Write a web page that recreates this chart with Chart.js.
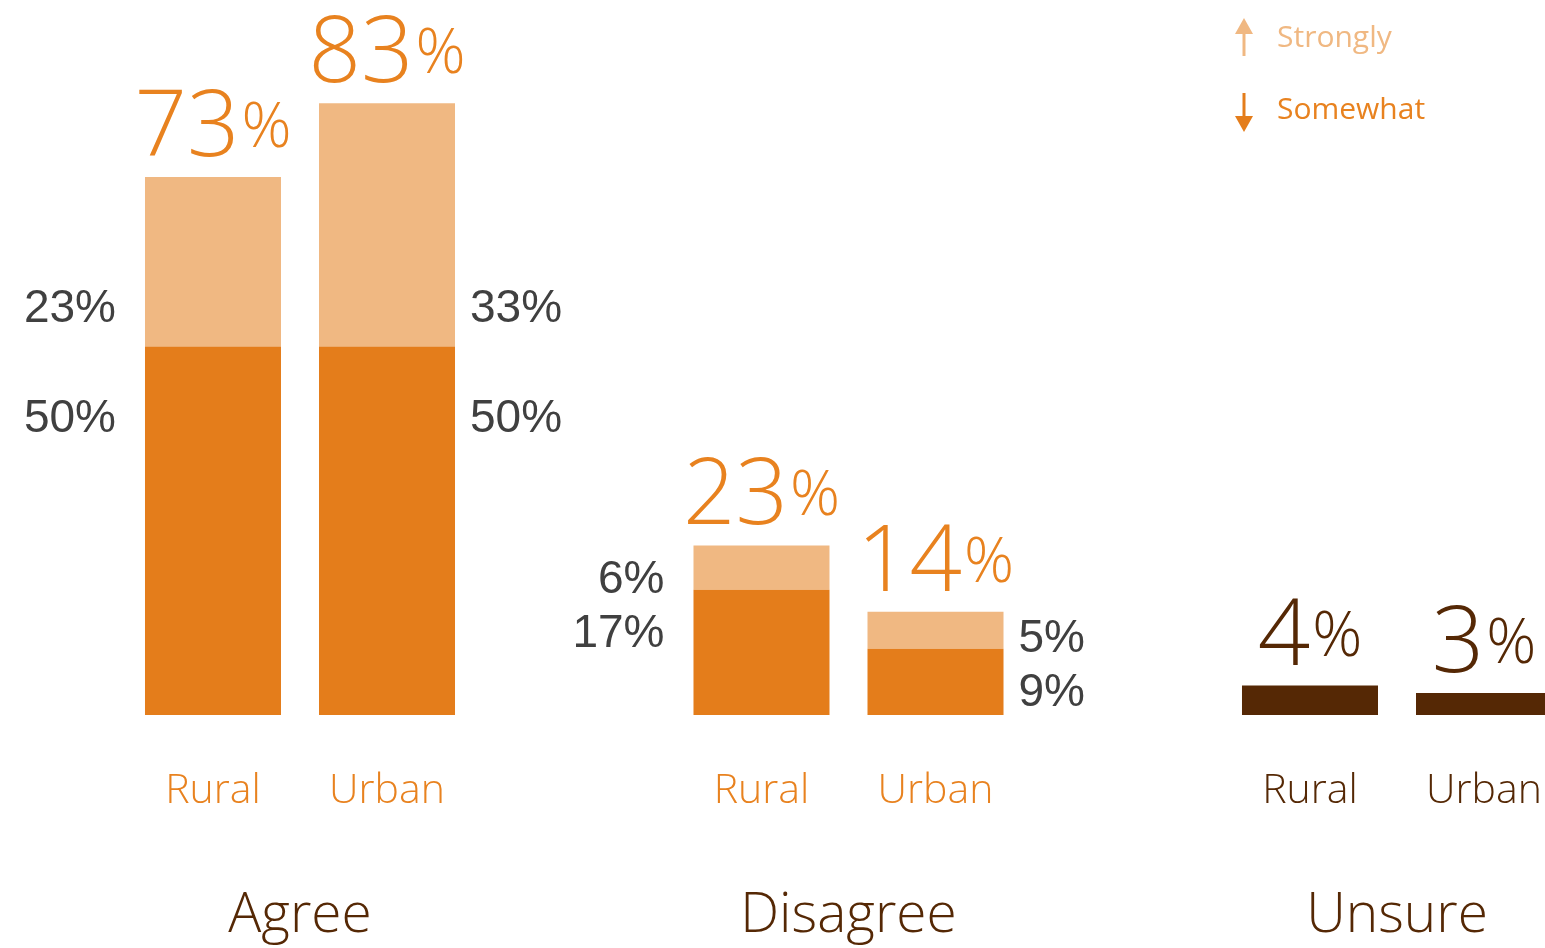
<!DOCTYPE html>
<html>
<head>
<meta charset="utf-8">
<script src="https://cdn.jsdelivr.net/npm/chart.js@4.4.0/dist/chart.umd.min.js"></script>
<style>
  html, body { margin: 0; padding: 0; background: #fff; }
  #wrap { width: 1545px; height: 948px; }
</style>
</head>
<body>
<div id="wrap"><canvas id="surveyChart" width="1545" height="948"></canvas></div>
<script>
const groups = ['Agree', 'Disagree', 'Unsure'];
const areas = ['Rural', 'Urban'];

const ruralSomewhat = [50, 17, null];
const ruralStrongly = [23, 6, null];
const ruralUnsure = [null, null, 4];
const urbanSomewhat = [50, 9, null];
const urbanStrongly = [33, 5, null];
const urbanUnsure = [null, null, 3];

const legendLabels = ['Strongly', 'Somewhat'];

const ORANGE = '#e47d1b';
const LIGHT = '#f0b882';
const BROWN = '#552805';
const GREY = '#404040';
const TEXT_ORANGE = '#e8821f';
const HUMANIST = '"Open Sans", "Noto Sans", sans-serif';
const GROTESK = '"Liberation Sans", Arial, sans-serif';

const datasets = [
  { label: 'Rural Somewhat', data: ruralSomewhat, stack: 'Rural', backgroundColor: ORANGE, part: 'somewhat' },
  { label: 'Rural Strongly', data: ruralStrongly, stack: 'Rural', backgroundColor: LIGHT, part: 'strongly' },
  { label: 'Rural Unsure', data: ruralUnsure, stack: 'Rural', backgroundColor: BROWN, part: 'unsure' },
  { label: 'Urban Somewhat', data: urbanSomewhat, stack: 'Urban', backgroundColor: ORANGE, part: 'somewhat' },
  { label: 'Urban Strongly', data: urbanStrongly, stack: 'Urban', backgroundColor: LIGHT, part: 'strongly' },
  { label: 'Urban Unsure', data: urbanUnsure, stack: 'Urban', backgroundColor: BROWN, part: 'unsure' },
];

// big "73%" style total: large number, smaller raised percent sign
function drawTotal(ctx, value, cx, baseline, color) {
  const num = String(value);
  const numFont = '300 92px ' + HUMANIST;
  const pctFont = '300 62px ' + HUMANIST;
  ctx.save();
  ctx.fillStyle = color;
  ctx.textBaseline = 'alphabetic';
  ctx.textAlign = 'left';
  ctx.font = numFont;
  const wNum = ctx.measureText(num).width;
  ctx.font = pctFont;
  const wPct = ctx.measureText('%').width;
  const start = cx - (wNum + 2 + wPct) / 2;
  ctx.font = numFont;
  ctx.fillText(num, start, baseline);
  ctx.font = pctFont;
  ctx.fillText('%', start + wNum + 2, baseline - 9);
  ctx.restore();
}

function drawArrow(ctx, x, from, to, color) {
  const dir = Math.sign(to - from);
  ctx.save();
  ctx.strokeStyle = color;
  ctx.fillStyle = color;
  ctx.lineWidth = 3;
  ctx.beginPath();
  ctx.moveTo(x, from);
  ctx.lineTo(x, to - dir * 10);
  ctx.stroke();
  ctx.beginPath();
  ctx.moveTo(x, to);
  ctx.lineTo(x - 9, to - dir * 16);
  ctx.lineTo(x + 9, to - dir * 16);
  ctx.closePath();
  ctx.fill();
  ctx.restore();
}

const annotations = {
  id: 'annotations',
  afterDatasetsDraw(chart) {
    const ctx = chart.ctx;
    const xScale = chart.scales.x;
    const bottom = chart.chartArea.bottom;

    areas.forEach((area, a) => {
      const sets = chart.data.datasets
        .map((ds, d) => ({ ds, meta: chart.getDatasetMeta(d) }))
        .filter(o => o.ds.stack === area);

      groups.forEach((group, i) => {
        const parts = sets.filter(o => o.ds.data[i] != null);
        const topBar = parts[parts.length - 1].meta.data[i];
        const total = parts.reduce((s, o) => s + o.ds.data[i], 0);
        const isUnsure = parts.some(o => o.ds.part === 'unsure');

        drawTotal(ctx, total, topBar.x, topBar.y - 21, isUnsure ? BROWN : TEXT_ORANGE);

        // segment values beside the stack: rural on the left, urban on the right
        const some = parts.find(o => o.ds.part === 'somewhat');
        const strong = parts.find(o => o.ds.part === 'strongly');
        if (some && strong) {
          const bar = some.meta.data[i];
          const split = bar.y;
          const strongH = split - strong.meta.data[i].y;
          const half = strongH > 100 ? 55 : 27;
          const mid = split + 18;
          const lx = a === 0 ? bar.x - bar.width / 2 - 29 : bar.x + bar.width / 2 + 15;
          ctx.save();
          ctx.fillStyle = GREY;
          ctx.font = '46px ' + GROTESK;
          ctx.textAlign = a === 0 ? 'right' : 'left';
          ctx.textBaseline = 'middle';
          ctx.fillText(strong.ds.data[i] + '%', lx, mid - half);
          ctx.fillText(some.ds.data[i] + '%', lx, mid + half);
          ctx.restore();
        }

        ctx.save();
        ctx.fillStyle = isUnsure ? BROWN : TEXT_ORANGE;
        ctx.font = '300 41px ' + HUMANIST;
        ctx.textAlign = 'center';
        ctx.textBaseline = 'alphabetic';
        ctx.fillText(area, topBar.x, bottom + 88);
        ctx.restore();
      });
    });

    ctx.save();
    ctx.fillStyle = BROWN;
    ctx.font = '300 55px ' + HUMANIST;
    ctx.textAlign = 'center';
    ctx.textBaseline = 'alphabetic';
    groups.forEach((group, i) => {
      ctx.fillText(group, xScale.getPixelForValue(i), bottom + 217);
    });
    ctx.restore();

    // legend, top right
    drawArrow(ctx, 1244, 56, 18, LIGHT);
    drawArrow(ctx, 1244, 93, 132, ORANGE);
    ctx.save();
    ctx.font = '30px ' + HUMANIST;
    ctx.textAlign = 'left';
    ctx.textBaseline = 'alphabetic';
    ctx.fillStyle = LIGHT;
    ctx.fillText(legendLabels[0], 1277, 47);
    ctx.fillStyle = TEXT_ORANGE;
    ctx.fillText(legendLabels[1], 1277, 119);
    ctx.restore();
  }
};

new Chart(document.getElementById('surveyChart'), {
  type: 'bar',
  data: { labels: groups, datasets: datasets },
  options: {
    responsive: false,
    animation: false,
    layout: { padding: { left: 300, right: 148, top: 0, bottom: 233 } },
    datasets: {
      bar: {
        categoryPercentage: 0.6345,
        barPercentage: 0.7816,
        borderWidth: 0,
        clip: false,
      },
    },
    scales: {
      x: { display: false, stacked: true, offset: false },
      y: { display: false, stacked: true, min: 0, max: 97 },
    },
    plugins: {
      legend: { display: false },
      tooltip: { enabled: false },
    },
  },
  plugins: [annotations],
});
</script>
</body>
</html>
